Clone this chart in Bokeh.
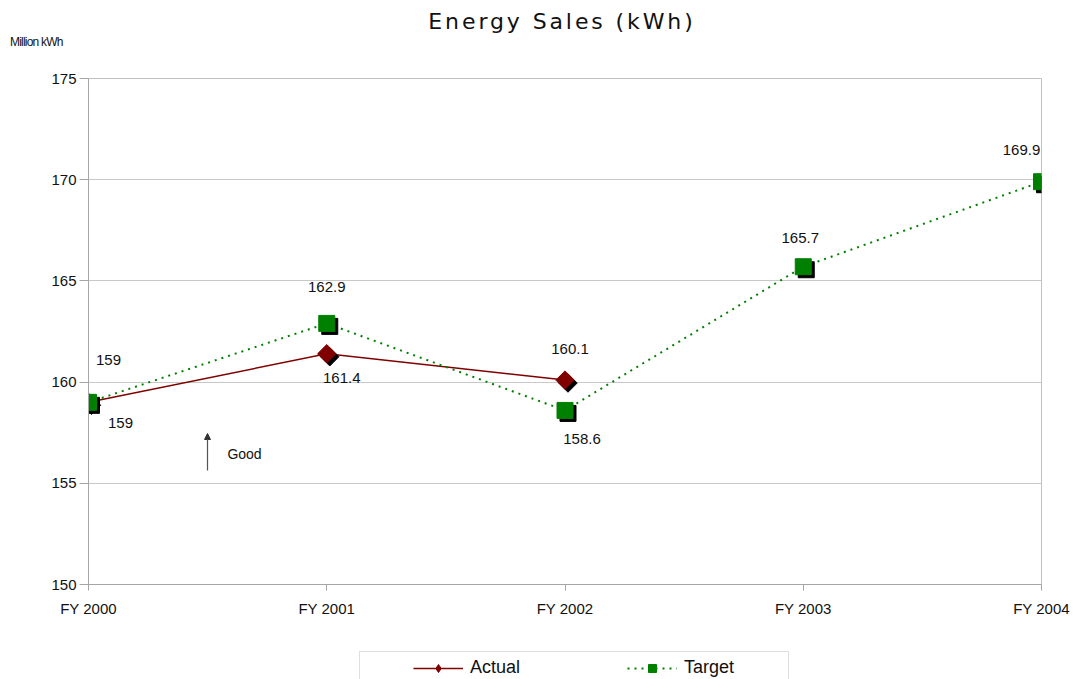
import math
from bokeh.plotting import figure
from bokeh.layouts import column
from bokeh.models import (ColumnDataSource, Range1d, FixedTicker, Legend, LegendItem,
                          Arrow, NormalHead, Label, Div)
from bokeh.transform import dodge
from bokeh.core.properties import value
from bokeh.embed import file_html
from bokeh.resources import INLINE

# ---- data ----
categories = ["FY 2000", "FY 2001", "FY 2002", "FY 2003", "FY 2004"]
actual = [159.0, 161.4, 160.1]
target = [159.0, 162.9, 158.6, 165.7, 169.9]
actual_labels = ["159", "161.4", "160.1"]
target_labels = ["159", "162.9", "158.6", "165.7", "169.9"]
y_ticks = [150, 155, 160, 165, 170, 175]
title_text = "Energy Sales (kWh)"
unit_text = "Million kWh"

# label placement (styling, screen px)
actual_dx = [32, 15, 5]
actual_dy = [21, 24, -31]
target_dx = [20, 0, 17, -3, -20]
target_dy = [-42, -36, 29, -29, -32]

FONT = "Liberation Sans"
RED, GREEN = "#800000", "#008000"

src_a = ColumnDataSource(dict(x=list(range(len(actual))), y=actual, t=actual_labels,
                              dx=actual_dx, dy=actual_dy))
src_t = ColumnDataSource(dict(x=list(range(len(target))), y=target, t=target_labels,
                              dx=target_dx, dy=target_dy))

W = 1077
H_HEAD, H_MAIN, H_LEG = 68, 572, 39

# ---- header (title + unit) ----
head = Div(width=W, height=H_HEAD, margin=0, text=(
    '<div style="position:relative;width:%dpx;height:%dpx;margin:0;padding:0;">'
    '<div style="position:absolute;left:262px;top:8px;width:600px;text-align:center;'
    "font-family:'DejaVu Sans';font-size:22px;line-height:28px;letter-spacing:2.9px;"
    'color:#111111;white-space:nowrap;">%s</div>'
    '<div style="position:absolute;left:10px;top:35px;'
    "font-family:'Liberation Sans';font-size:12px;line-height:14px;letter-spacing:-0.8px;"
    'color:#111111;white-space:nowrap;">%s</div></div>') % (W, H_HEAD, title_text, unit_text))

p = figure(width=W, height=H_MAIN, output_backend="svg", toolbar_location=None,
           x_range=Range1d(0, len(categories) - 1), y_range=Range1d(150, 175),
           min_border_left=88, min_border_right=36, min_border_top=10, min_border_bottom=56,
           background_fill_color="white", border_fill_color="white")
p.title = None

p.outline_line_color = "#c0c0c0"
p.xgrid.grid_line_color = None
p.ygrid.grid_line_color = "#c8c8c8"
p.ygrid.ticker = FixedTicker(ticks=y_ticks)

p.yaxis.ticker = FixedTicker(ticks=y_ticks)
p.xaxis.ticker = FixedTicker(ticks=list(range(len(categories))))
p.xaxis.major_label_overrides = {i: c for i, c in enumerate(categories)}
for ax in (p.xaxis, p.yaxis):
    ax.axis_line_color = "#a6a6a6"
    ax.major_tick_line_color = "#a6a6a6"
    ax.minor_tick_line_color = None
    ax.major_tick_in = 0
    ax.major_label_text_font = FONT
    ax.major_label_text_font_size = "15px"
    ax.major_label_text_color = "#111111"
p.yaxis.major_tick_out = 9
p.yaxis.major_label_standoff = 3
p.xaxis.major_tick_out = 6
p.xaxis.major_label_standoff = 9

# lines
dx_px = 3 * (len(categories) - 1) / 953.0
dy_px = 3 * 25 / 506.0
p.line("x", "y", source=src_a, line_color=RED, line_width=1.5)
p.line("x", "y", source=src_t, line_color=GREEN, line_width=2, line_dash="2 5")

# shadows
p.scatter(dodge("x", dx_px), dodge("y", -dy_px), source=src_a, marker="square",
          angle=math.pi / 4, size=13, fill_color="black", line_color="black")
p.scatter(dodge("x", dx_px), dodge("y", -dy_px), source=src_t, marker="square",
          size=16, fill_color="black", line_color="black")
# markers
p.scatter("x", "y", source=src_a, marker="square", angle=math.pi / 4, size=13,
          fill_color=RED, line_color=RED)
p.scatter("x", "y", source=src_t, marker="square", size=16,
          fill_color=GREEN, line_color=GREEN)

# data labels
for s in (src_a, src_t):
    p.text("x", "y", text="t", source=s, x_offset="dx", y_offset="dy",
           text_font=value(FONT), text_font_size="15px", text_color="#111111",
           text_align="center", text_baseline="middle")

# "Good" arrow annotation
p.add_layout(Arrow(end=NormalHead(size=6, fill_color="#333333", line_color="#333333"),
                   x_start=0.4995, y_start=155.63, x_end=0.4995, y_end=157.46,
                   line_color="#555555", line_width=1.2))
p.add_layout(Label(x=0.583, y=156.47, text="Good", text_font=FONT, text_font_size="14px",
                   text_baseline="middle", text_align="left", text_color="#111111"))

# ---- legend strip (separate figure; series drawn outside its view, legend only) ----
q = figure(width=W, height=H_LEG, output_backend="svg", toolbar_location=None,
           x_range=Range1d(0, 1), y_range=Range1d(0, 1), x_axis_location=None,
           y_axis_location=None, min_border=0, outline_line_color=None,
           background_fill_color="white", border_fill_color="white")
q.grid.visible = False
qa_l = q.line("x", "y", source=src_a, line_color=RED, line_width=1.5)
qa_m = q.scatter("x", "y", source=src_a, marker="diamond", size=22,
                 fill_color=RED, line_color=RED)
qt_l = q.line("x", "y", source=src_t, line_color=GREEN, line_width=2, line_dash="2 5")
qt_m = q.scatter("x", "y", source=src_t, marker="square", size=11,
                 fill_color=GREEN, line_color=GREEN)
q_box = q.scatter("x", "y", source=src_t, marker="square", fill_alpha=0, line_alpha=0)

box = Legend(items=[LegendItem(label=" ", renderers=[q_box])], location=(271, -10),
             padding=0, margin=0, glyph_width=1, glyph_height=36, label_standoff=0,
             label_width=427, border_line_color="#c0c0c0", border_line_width=1,
             background_fill_color="white", background_fill_alpha=1)
q.add_layout(box, "center")

leg = Legend(items=[LegendItem(label="Actual", renderers=[qa_l, qa_m]),
                    LegendItem(label="Target", renderers=[qt_l, qt_m])],
             orientation="horizontal", location=(322, -2), padding=3, margin=0,
             glyph_width=50, glyph_height=20, label_standoff=7, spacing=57, label_width=100,
             label_text_font=FONT, label_text_font_size="18px", label_text_color="#111111",
             border_line_alpha=0, background_fill_alpha=0)
q.add_layout(leg, "center")

layout = column(head, p, q, spacing=0)
open("out.html", "w").write(file_html(layout, INLINE))
